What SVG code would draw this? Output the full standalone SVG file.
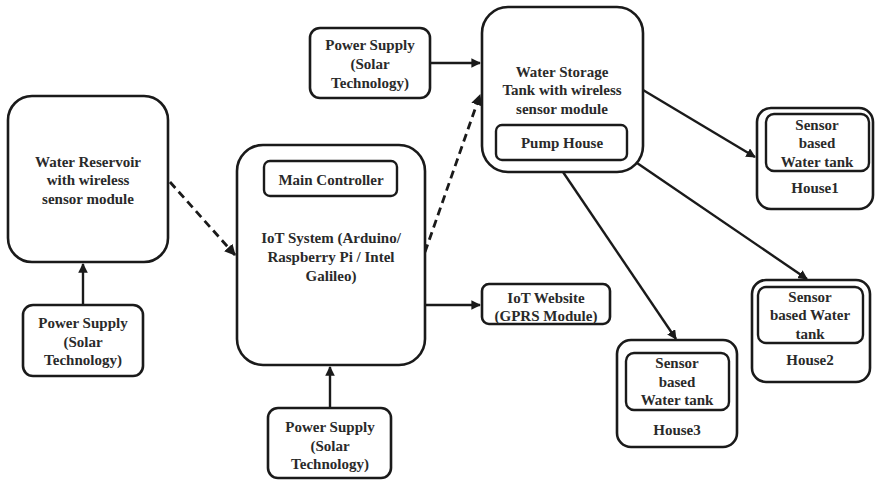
<svg xmlns="http://www.w3.org/2000/svg" width="876" height="480" viewBox="0 0 876 480">
  <style>
    .box { fill: #ffffff; stroke: #1a1a1a; stroke-width: 2.6; }
    .inner { fill: #ffffff; stroke: #1a1a1a; stroke-width: 2.4; }
    .lbl { font-family: "Liberation Serif", serif; font-weight: 700; font-size: 15px; fill: #2a2a2a; text-anchor: middle; }
    .edge { fill: none; stroke: #1a1a1a; stroke-width: 2.4; }
    .dash { stroke-dasharray: 8 5; stroke-width: 2.8; }
  </style>
  <defs>
    <marker id="arr" viewBox="0 0 10 10" refX="9" refY="5" markerWidth="4" markerHeight="4" orient="auto" markerUnits="strokeWidth">
      <path d="M0,0 L10,5 L0,10 z" fill="#1a1a1a"/>
    </marker>
  </defs>
  <rect width="876" height="480" fill="#ffffff"/>

  <!-- solid arrows carry power / water, dashed arrows are wireless links -->
  <g id="connectors">
    <line class="edge" x1="83" y1="305" x2="83" y2="264" marker-end="url(#arr)"/>
    <line class="edge dash" x1="170" y1="182" x2="235" y2="255" marker-end="url(#arr)"/>
    <line class="edge" x1="330" y1="408" x2="330" y2="367" marker-end="url(#arr)"/>
    <line class="edge" x1="425" y1="305" x2="480" y2="305" marker-end="url(#arr)"/>
    <line class="edge dash" x1="425" y1="252" x2="480" y2="95" marker-end="url(#arr)"/>
    <line class="edge" x1="430" y1="63" x2="480" y2="63" marker-end="url(#arr)"/>
    <line class="edge" x1="643" y1="90" x2="755" y2="157" marker-end="url(#arr)"/>
    <line class="edge" x1="637" y1="163" x2="807" y2="279" marker-end="url(#arr)"/>
    <line class="edge" x1="563" y1="172" x2="676" y2="339" marker-end="url(#arr)"/>
  </g>

  <g id="reservoir">
    <rect class="box" x="8" y="96" width="160" height="166" rx="24"/>
    <text class="lbl" x="88" y="167">Water Reservoir</text>
    <text class="lbl" x="88" y="185">with wireless</text>
    <text class="lbl" x="88" y="204">sensor module</text>
  </g>

  <g id="power-reservoir">
    <rect class="box" x="23" y="305" width="120" height="71" rx="10"/>
    <text class="lbl" x="83" y="328">Power Supply</text>
    <text class="lbl" x="83" y="347">(Solar</text>
    <text class="lbl" x="83" y="365">Technology)</text>
  </g>

  <g id="iot-system">
    <rect class="box" x="237" y="145" width="188" height="220" rx="26"/>
    <rect class="inner" x="264" y="161" width="133" height="35" rx="6"/>
    <text class="lbl" x="331" y="185">Main Controller</text>
    <text class="lbl" x="331" y="243">IoT System (Arduino/</text>
    <text class="lbl" x="331" y="262">Raspberry Pi / Intel</text>
    <text class="lbl" x="331" y="281">Galileo)</text>
  </g>

  <g id="power-iot">
    <rect class="box" x="268" y="408" width="123" height="70" rx="10"/>
    <text class="lbl" x="330" y="432">Power Supply</text>
    <text class="lbl" x="330" y="451">(Solar</text>
    <text class="lbl" x="330" y="469">Technology)</text>
  </g>

  <g id="iot-website">
    <rect class="box" x="482" y="284" width="128" height="40" rx="7"/>
    <text class="lbl" x="546" y="303">IoT Website</text>
    <text class="lbl" x="546" y="321">(GPRS Module)</text>
  </g>

  <g id="power-storage">
    <rect class="box" x="310" y="28" width="120" height="70" rx="10"/>
    <text class="lbl" x="370" y="50">Power Supply</text>
    <text class="lbl" x="370" y="69">(Solar</text>
    <text class="lbl" x="370" y="88">Technology)</text>
  </g>

  <g id="storage-tank">
    <rect class="box" x="482" y="7" width="161" height="165" rx="26"/>
    <text class="lbl" x="562" y="77">Water Storage</text>
    <text class="lbl" x="562" y="95">Tank with wireless</text>
    <text class="lbl" x="562" y="114">sensor module</text>
    <rect class="inner" x="496" y="125" width="131" height="35" rx="6"/>
    <text class="lbl" x="562" y="148">Pump House</text>
  </g>

  <g id="house1">
    <rect class="box" x="757" y="108" width="116" height="101" rx="14"/>
    <rect class="inner" x="766" y="114" width="103" height="57" rx="8"/>
    <text class="lbl" x="817" y="130">Sensor</text>
    <text class="lbl" x="817" y="148">based</text>
    <text class="lbl" x="817" y="167">Water tank</text>
    <text class="lbl" x="815" y="193">House1</text>
  </g>

  <g id="house2">
    <rect class="box" x="752" y="280" width="118" height="102" rx="14"/>
    <rect class="inner" x="758" y="287" width="105" height="56" rx="8"/>
    <text class="lbl" x="810" y="302">Sensor</text>
    <text class="lbl" x="810" y="320">based Water</text>
    <text class="lbl" x="810" y="339">tank</text>
    <text class="lbl" x="810" y="365">House2</text>
  </g>

  <g id="house3">
    <rect class="box" x="617" y="340" width="120" height="107" rx="14"/>
    <rect class="inner" x="626" y="353" width="103" height="57" rx="8"/>
    <text class="lbl" x="677" y="368">Sensor</text>
    <text class="lbl" x="677" y="387">based</text>
    <text class="lbl" x="677" y="405">Water tank</text>
    <text class="lbl" x="677" y="435">House3</text>
  </g>
</svg>
